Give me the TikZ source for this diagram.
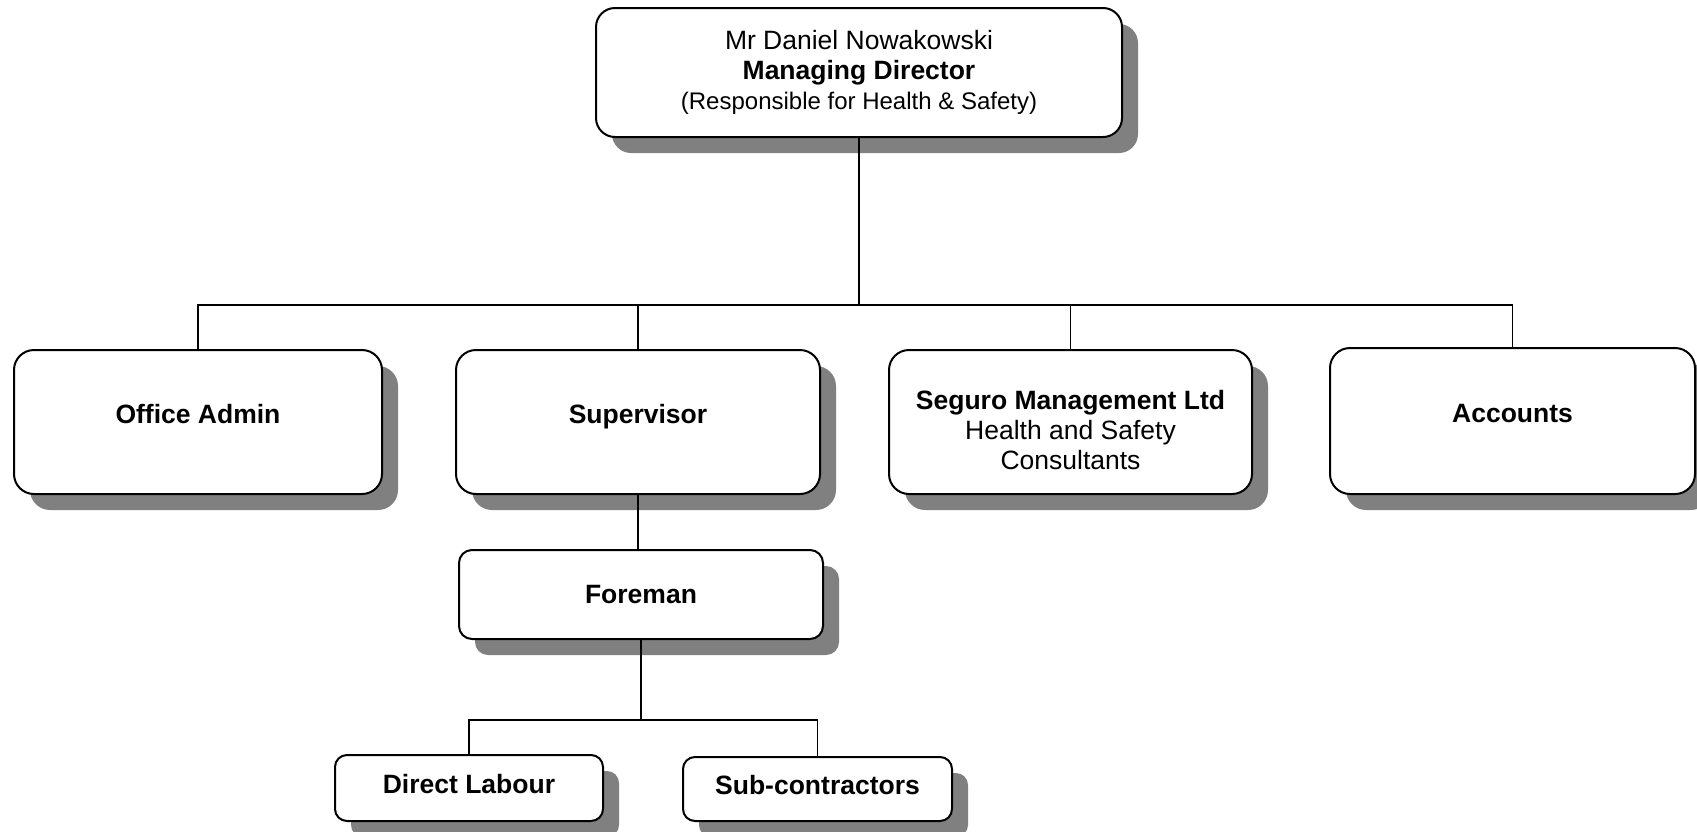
\documentclass[tikz,border=0pt]{standalone}
\usepackage{fontspec}
\setmainfont{Liberation Sans}
\usepackage{tikz}
\usetikzlibrary{shadows}

\begin{document}
\begin{tikzpicture}[x=0.5pt,y=-0.5pt,line width=0.8pt]
\useasboundingbox (0,0) rectangle (1697,831);
%\tikzstyle{unit}=[draw,rounded corners,fill=white]
\begin{scope}[every node/.style={draw,line width=1pt,fill=white,rounded corners=10pt,align=center,inner sep=0pt,
    font=\fontsize{13.25}{15}\selectfont,
    drop shadow={shadow xshift=8pt,shadow yshift=-8pt,fill=black!50,opacity=1}}]
    \node[minimum width=263pt,minimum height=64.5pt,rounded corners=9.5pt] (md) at (859,72.5)
        {Mr Daniel Nowakowski\\\textbf{Managing Director}\\{\fontsize{12}{15}\selectfont(Responsible for Health \& Safety)}};

    \node[minimum width=184pt,minimum height=72pt,text depth=8pt,font=\fontsize{13.25}{15}\selectfont\bfseries] (admin) at (198,422) {Office Admin};
    \node[minimum width=182pt,minimum height=72pt,text depth=8pt,font=\fontsize{13.25}{15}\selectfont\bfseries] (sup) at (638,422) {Supervisor};
    \node[minimum width=181.5pt,minimum height=72pt] (seguro) at (1070.5,422)
        {\rule{0pt}{17.6pt}\textbf{Seguro Management Ltd}\\Health and Safety\\Consultants};
    \node[minimum width=182.5pt,minimum height=73pt,text depth=8pt,font=\fontsize{13.25}{15}\selectfont\bfseries] (acc) at (1512.5,421) {Accounts};

    \node[minimum width=182pt,minimum height=44.5pt,rounded corners=6.5pt,font=\fontsize{13.25}{15}\selectfont\bfseries] (fore) at (641,594.5) {Foreman};

    \node[minimum width=134pt,minimum height=33pt,rounded corners=6pt,text depth=4pt,font=\fontsize{13.25}{15}\selectfont\bfseries] (labour) at (469,788) {Direct Labour};
    \node[minimum width=134.5pt,minimum height=32pt,rounded corners=6pt,text depth=4pt,font=\fontsize{13.25}{15}\selectfont\bfseries] (subc) at (817.5,789) {Sub-contractors};
\end{scope}

\coordinate (bus) at (859,305);
\coordinate (bus2) at (641,720);

\draw (md.south) -- (bus);
\draw (admin.north) |- (bus);
\draw (sup.north) |- (bus);
\draw (seguro.north) |- (bus);
\draw (acc.north) |- (bus);

\draw (sup.south) -- (sup.south |- fore.north);
\draw (fore.south) -- (bus2);
\draw (labour.north) |- (bus2);
\draw (subc.north) |- (bus2);
\end{tikzpicture}
\end{document}
